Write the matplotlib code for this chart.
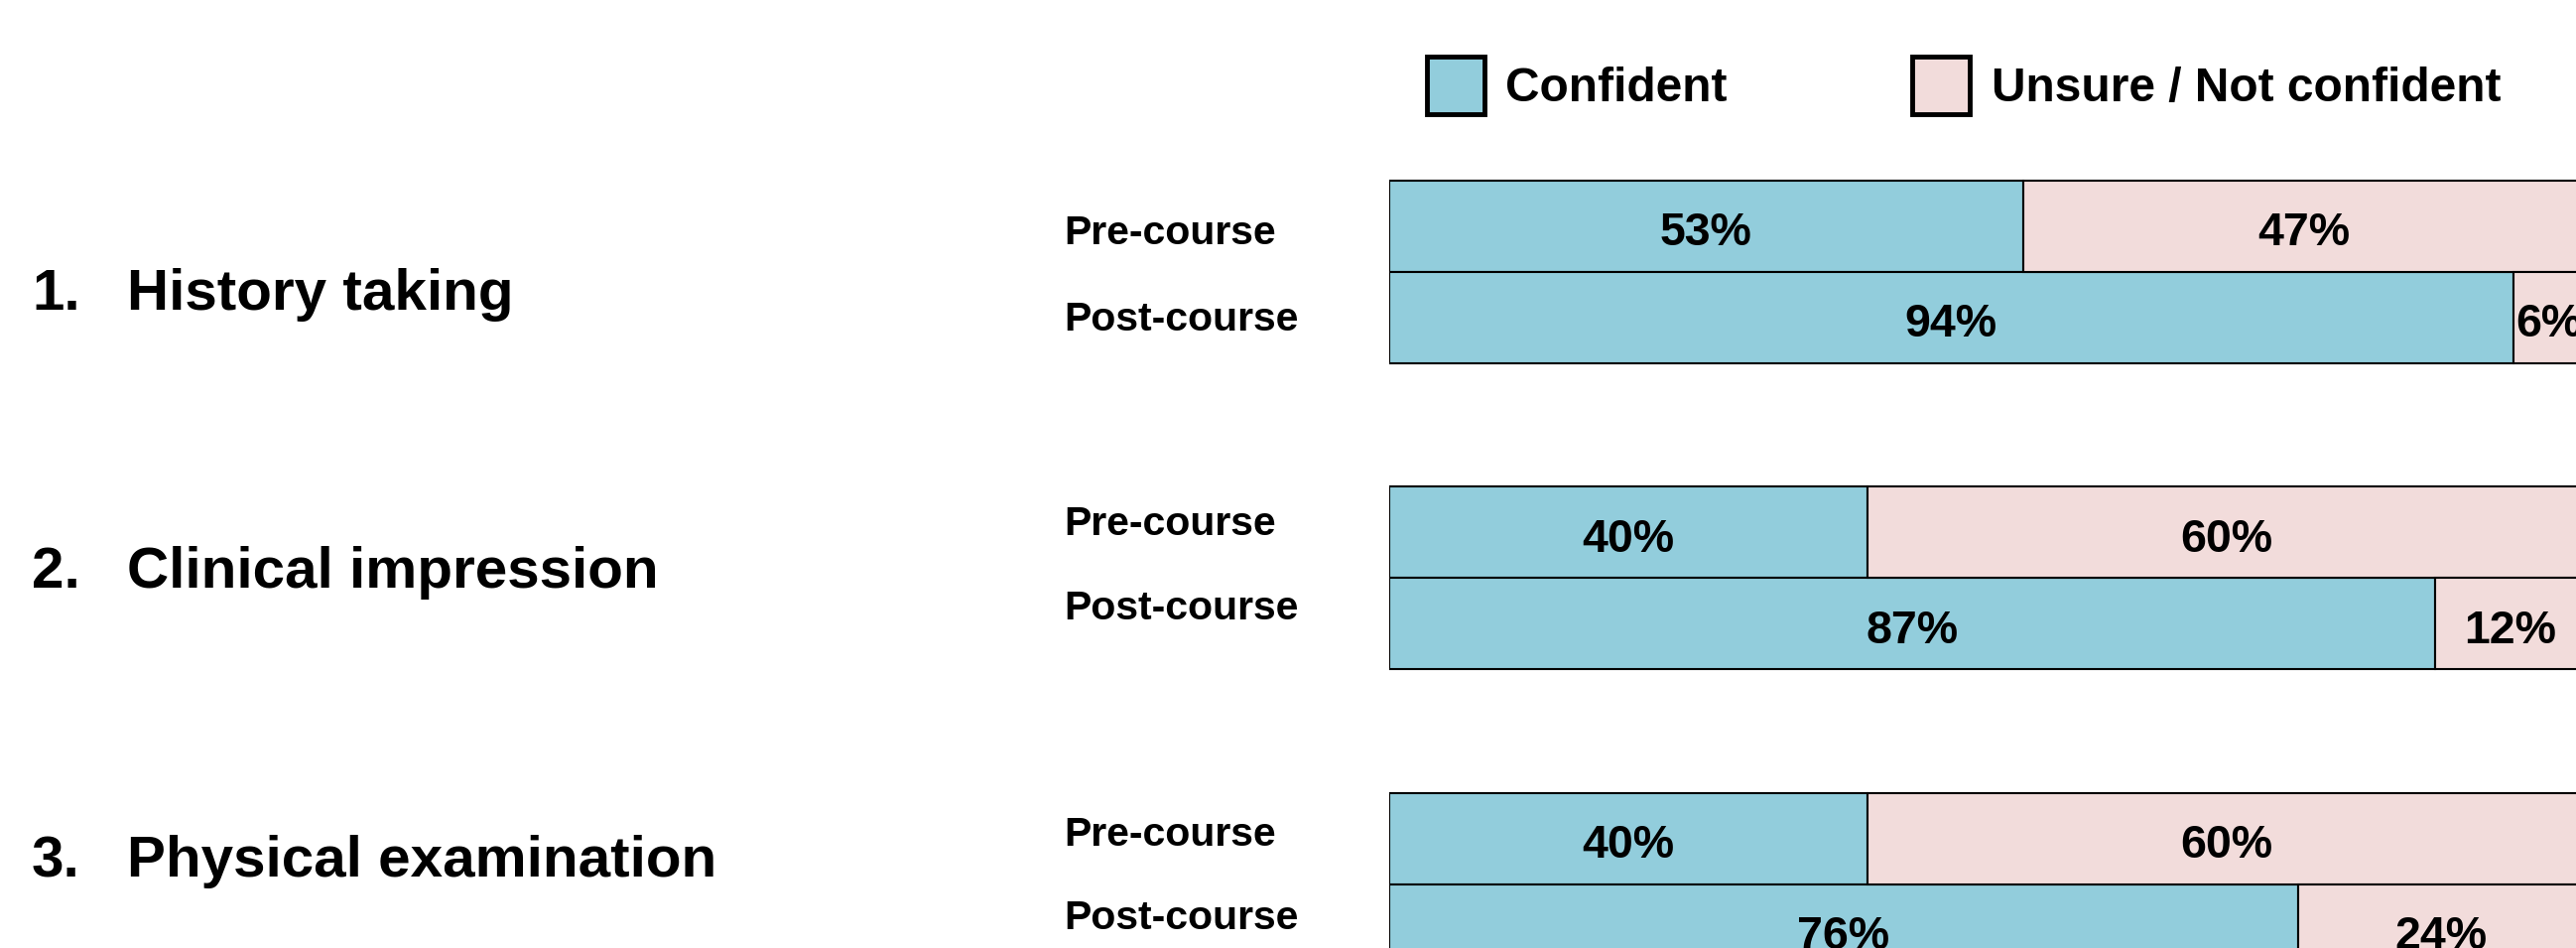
"""Confidence before and after the course, stacked horizontal bars."""

import matplotlib

matplotlib.use("Agg")
import matplotlib.pyplot as plt
from matplotlib.patches import Patch

skills = ["History taking", "Clinical impression", "Physical examination"]
phases = ["Pre-course", "Post-course"]
# one entry per bar: pre/post for each skill, in order
confident = [53, 94, 40, 87.5, 40, 76]
unsure = [47, 6, 60, 12.5, 60, 24]
series_names = ["Confident", "Unsure / Not confident"]

BLUE = "#92CDDC"
PINK = "#F2DCDB"
W, H, DPI = 2596, 955, 100

# layout (pixels of the output image)
GROUP_STEP = 3.353  # distance between skill groups, in bar heights
BAR_PX = 92
TOP_BAR_CENTER_PX = 228
SKILL_BASELINES = [312, 592, 883]
PHASE_BASELINES = [(246, 333), (539, 624), (852, 936)]

plt.rcParams["font.family"] = ["Liberation Sans", "DejaVu Sans"]
plt.rcParams["font.weight"] = "bold"


def main() -> None:
    fig = plt.figure(figsize=(W / DPI, H / DPI), dpi=DPI)
    ax = fig.add_axes([1400 / W, 0, 1205 / W, 1])

    ys = []
    for g in range(len(skills)):
        for r in range(len(phases)):
            ys.append(g * GROUP_STEP + r)

    ax.barh(ys, confident, height=1.0, color=BLUE, edgecolor="black", linewidth=1.5)
    ax.barh(ys, unsure, left=confident, height=1.0, color=PINK,
            edgecolor="black", linewidth=1.5)

    for y, c, u in zip(ys, confident, unsure):
        ax.text(c / 2, y + 0.21, f"{int(c)}%", ha="center", va="baseline",
                fontsize=33.5, fontweight="bold")
        ax.text(c + u / 2, y + 0.21, f"{int(u)}%", ha="center", va="baseline",
                fontsize=33.5, fontweight="bold")

    ax.set_xlim(0, 100)
    top = -TOP_BAR_CENTER_PX / BAR_PX
    ax.set_ylim(top + H / BAR_PX, top)
    ax.axis("off")

    for i, skill in enumerate(skills):
        yb = 1 - SKILL_BASELINES[i] / H
        fig.text(32 / W, yb, f"{i + 1}.", fontsize=42, fontweight="bold", va="baseline")
        fig.text(128 / W, yb, skill, fontsize=42, fontweight="bold", va="baseline")
        for phase, base in zip(phases, PHASE_BASELINES[i]):
            fig.text(1072 / W, 1 - base / H, phase, fontsize=29.5,
                     fontweight="bold", va="baseline")

    handles = [Patch(facecolor=BLUE, edgecolor="black", linewidth=3.5),
               Patch(facecolor=PINK, edgecolor="black", linewidth=3.5)]
    fig.legend(handles, series_names, ncol=2, frameon=False,
               prop={"weight": "bold", "size": 34.5},
               handlelength=1.2, handleheight=1.47, handletextpad=0.45,
               columnspacing=3.9, borderpad=0, borderaxespad=0,
               loc="center left", bbox_to_anchor=(1438 / W, 1 - 86 / H))

    fig.savefig("out.png", dpi=DPI)


if __name__ == "__main__":
    main()
